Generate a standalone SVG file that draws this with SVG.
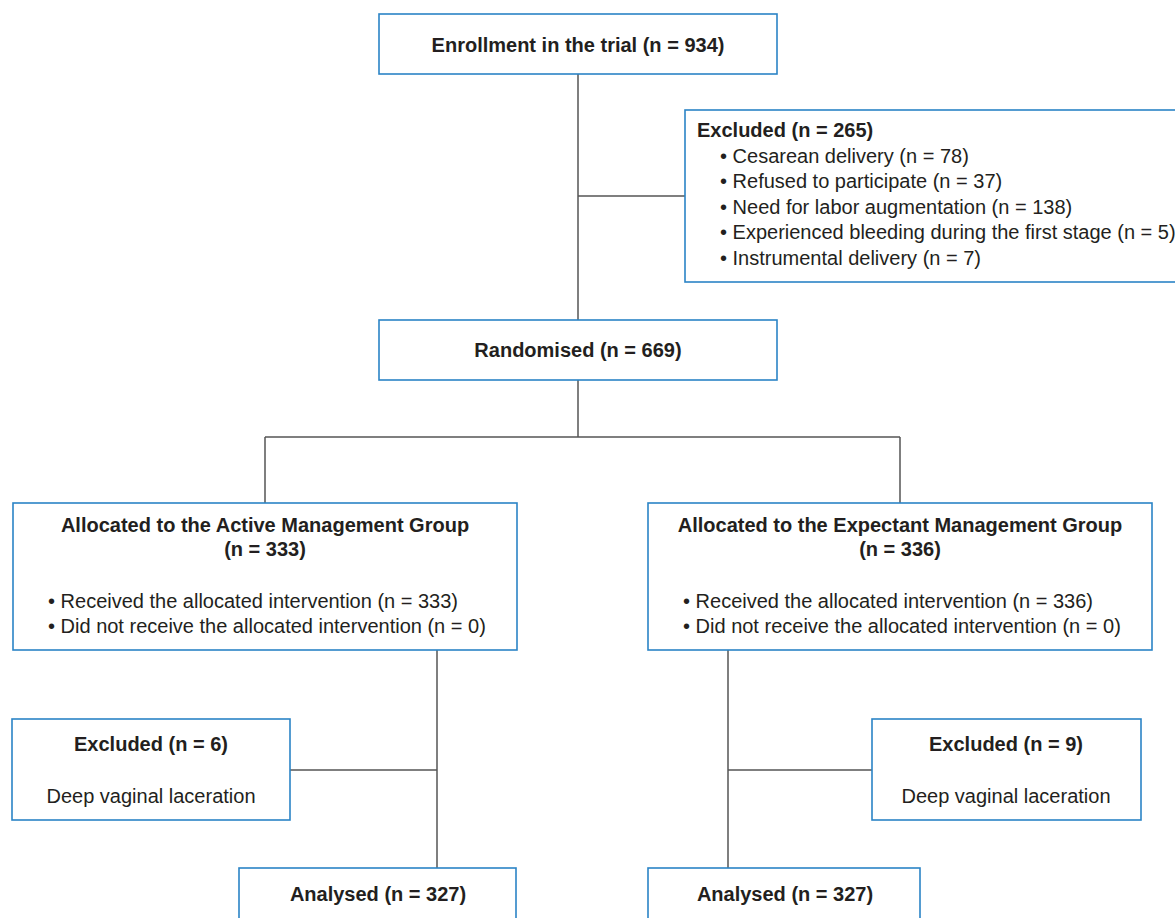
<svg xmlns="http://www.w3.org/2000/svg" width="1175" height="918" viewBox="0 0 1175 918">
<style>
.box{fill:#ffffff;stroke:#2b84c6;stroke-width:1.6}
.con{fill:none;stroke:#555555;stroke-width:1.5}
text{font-family:"Liberation Sans",Arial,sans-serif;font-size:20px;fill:#231f20}
.b{font-weight:bold}
.c{text-anchor:middle}
</style>
<rect x="0" y="0" width="1175" height="918" fill="#ffffff"/>
<g id="connectors">
<path class="con" d="M578,74 V320"/>
<path class="con" d="M578,196 H685"/>
<path class="con" d="M578,380 V437"/>
<path class="con" d="M265,437 H900"/>
<path class="con" d="M265,437 V503"/>
<path class="con" d="M900,437 V503"/>
<path class="con" d="M437,650 V868"/>
<path class="con" d="M290,770 H437"/>
<path class="con" d="M728,650 V868"/>
<path class="con" d="M728,770 H872"/>
</g>
<g id="enrollment">
<rect class="box" x="379" y="14" width="398" height="60"/>
<text class="b c" x="578" y="52">Enrollment in the trial (n = 934)</text>
</g>
<g id="excluded-top">
<rect class="box" x="685" y="110" width="510" height="172"/>
<text class="b" x="697" y="137">Excluded (n = 265)</text>
<text x="720" y="162.5">• Cesarean delivery (n = 78)</text>
<text x="720" y="188">• Refused to participate (n = 37)</text>
<text x="720" y="213.5">• Need for labor augmentation (n = 138)</text>
<text x="720" y="239">• Experienced bleeding during the first stage (n = 5)</text>
<text x="720" y="264.5">• Instrumental delivery (n = 7)</text>
</g>
<g id="randomised">
<rect class="box" x="379" y="320" width="398" height="60"/>
<text class="b c" x="578" y="357">Randomised (n = 669)</text>
</g>
<g id="alloc-active">
<rect class="box" x="13" y="503" width="504" height="147"/>
<text class="b c" x="265" y="532">Allocated to the Active Management Group</text>
<text class="b c" x="265" y="556">(n = 333)</text>
<text x="48" y="608">• Received the allocated intervention (n = 333)</text>
<text x="48" y="633">• Did not receive the allocated intervention (n = 0)</text>
</g>
<g id="alloc-expectant">
<rect class="box" x="648" y="503" width="504" height="147"/>
<text class="b c" x="900" y="532">Allocated to the Expectant Management Group</text>
<text class="b c" x="900" y="556">(n = 336)</text>
<text x="683" y="608">• Received the allocated intervention (n = 336)</text>
<text x="683" y="633">• Did not receive the allocated intervention (n = 0)</text>
</g>
<g id="excluded-active">
<rect class="box" x="12" y="719" width="278" height="101"/>
<text class="b c" x="151" y="751">Excluded (n = 6)</text>
<text class="c" x="151" y="803">Deep vaginal laceration</text>
</g>
<g id="excluded-expectant">
<rect class="box" x="872" y="719" width="269" height="101"/>
<text class="b c" x="1006" y="751">Excluded (n = 9)</text>
<text class="c" x="1006" y="803">Deep vaginal laceration</text>
</g>
<g id="analysed-active">
<rect class="box" x="239" y="868" width="277" height="80"/>
<text class="b c" x="378" y="901">Analysed (n = 327)</text>
</g>
<g id="analysed-expectant">
<rect class="box" x="648" y="868" width="272" height="80"/>
<text class="b c" x="785" y="901">Analysed (n = 327)</text>
</g>
</svg>
